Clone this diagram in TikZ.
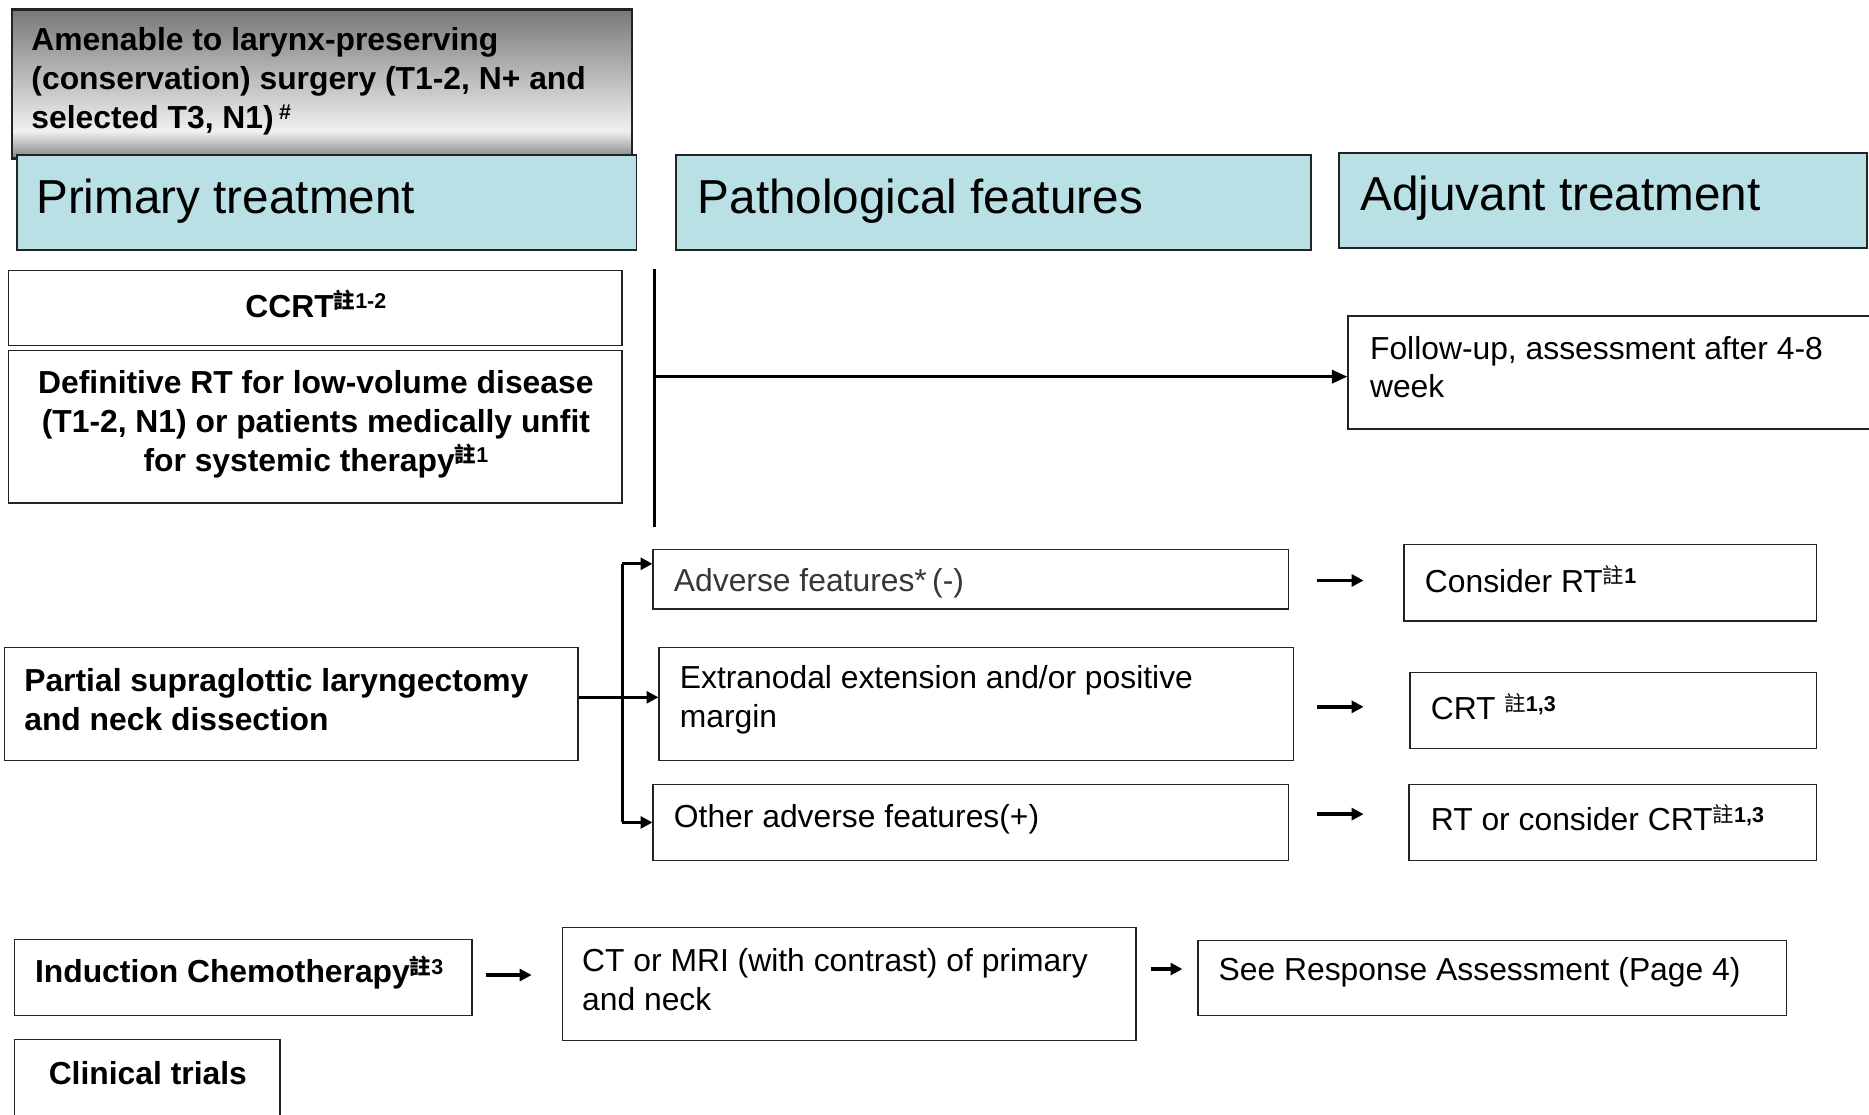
\documentclass[tikz,border=0pt]{standalone}
\usepackage{fontspec}
\setmainfont{Liberation Sans}
\newfontfamily\cjk{Noto Sans CJK TC}
\usetikzlibrary{arrows.meta,fit}
\newcommand\zhu[1]{\raisebox{3.6pt}{\fontsize{9}{9}\selectfont{\cjk 註}\textbf{#1}}}
\definecolor{hdr}{RGB}{185,224,228}
\definecolor{bord}{RGB}{35,35,35}
\definecolor{gtop}{RGB}{120,120,120}
\definecolor{gmid}{RGB}{240,240,240}
\definecolor{gbot}{RGB}{130,130,130}
\definecolor{advtxt}{RGB}{55,55,55}
\begin{document}
\begin{tikzpicture}[x=0.5pt,y=-0.5pt,
  box/.style={draw=bord, line width=0.6pt, inner sep=0pt},
  hbox/.style={box, fill=hdr, line width=0.8pt},
  txt/.style={inner sep=0pt, anchor=west, align=left, font=\fontsize{13.35}{16.25}\selectfont},
  btxt/.style={txt, font=\fontsize{13.35}{16.25}\selectfont\bfseries},
  htxt/.style={inner sep=0pt, anchor=west, font=\fontsize{20}{24}\selectfont},
  bigconn/.style={line width=1.3pt, -{Triangle[length=6.5pt,width=5.5pt]}},
  conn/.style={line width=1.4pt, -{Triangle[length=5pt,width=5pt]}},
]
\clip (0,0) rectangle (1568,935);
\fill[white] (0,0) rectangle (1568,935);

% gray top box
\shade[top color=gtop, bottom color=gmid] (10,8) rectangle (530,110);
\shade[top color=gmid, bottom color=gbot] (10,110) rectangle (530,133);
\node[box, line width=0.9pt, fit={(10,8) (530,133)}] (amen) {};
\node[btxt] (amen-t) at (26,68) {Amenable to larynx-preserving\\(conservation) surgery (T1-2, N+ and\\selected T3, N1)\,\raisebox{3.6pt}{\fontsize{9}{9}\selectfont\#}};

% headers
\node[hbox, fit={(14,130) (534,210)}] (prim) {};
\node[hbox, fit={(567,130) (1100,210)}] (path) {};
\node[hbox, fit={(1123,128) (1566,208)}] (adj) {};
\node[htxt] (prim-t) at (30,169) {Primary treatment};
\node[htxt] (path-t) at (585,169) {Pathological features};
\node[htxt] (adj-t) at (1141,166) {Adjuvant treatment};

% primary treatment boxes
\node[box, fit={(7,227) (522,290)}] (ccrt) {};
\node[btxt, anchor=center] (ccrt-t) at (265,255) {CCRT\zhu{1-2}};
\node[box, fit={(7,294) (522,422)}] (def) {};
\node[btxt, anchor=center, align=center] (def-t) at (265,356) {Definitive RT for low-volume disease\\(T1-2, N1) or patients medically unfit\\for systemic therapy\zhu{1}};

\node[box, fit={(1131,265) (1590,360)}] (fu) {};
\node[txt] (fu-t) at (1149,308) {Follow-up, assessment after 4-8\\week};

\coordinate (vtop) at (549,226);
\coordinate (vbot) at (549,442);
\coordinate (vmid) at (549,316);
\draw[line width=1.5pt] (vtop) -- (vbot);
\draw[bigconn] (vmid) -- (vmid -| fu.west);

% surgery
\node[box, fit={(4,543) (485,638)}] (part) {};
\node[btxt] (part-t) at (20,587) {Partial supraglottic laryngectomy\\and neck dissection};

\node[box, fit={(548,461) (1081,511)}] (adv) {};
\node[txt, text=advtxt] (adv-t) at (565,489) {Adverse features*\,(-)};
\node[box, fit={(553,543) (1085,638)}] (ext) {};
\node[txt] (ext-t) at (570,587) {Extranodal extension and/or positive\\margin};
\node[box, fit={(548,658) (1081,722)}] (oth) {};
\node[txt] (oth-t) at (565,687) {Other adverse features(+)};

\coordinate (btop) at (522,473);
\coordinate (bbot) at (522,690);
\coordinate (bmid) at (522,585);
\draw[line width=1.3pt] (btop) -- (bbot);
\draw[conn] (part.east |- bmid) -- (ext.west |- bmid);
\draw[conn] (btop) -- (btop -| adv.west);
\draw[conn] (bbot) -- (bbot -| oth.west);

\node[box, fit={(1178,457) (1524,521)}] (crt1) {};
\node[txt] (crt1-t) at (1195,486) {Consider RT\zhu{1}};
\node[box, fit={(1183,564) (1524,628)}] (crt2) {};
\node[txt] (crt2-t) at (1200,593) {CRT \zhu{1,3}};
\node[box, fit={(1182,658) (1524,722)}] (crt3) {};
\node[txt] (crt3-t) at (1200,686) {RT or consider CRT\zhu{1,3}};

\coordinate (s1a) at (1105,487); \coordinate (s1b) at (1144,487);
\coordinate (s2a) at (1105,593); \coordinate (s2b) at (1144,593);
\coordinate (s3a) at (1105,683); \coordinate (s3b) at (1144,683);
\draw[conn] (s1a) -- (s1b);
\draw[conn] (s2a) -- (s2b);
\draw[conn] (s3a) -- (s3b);

% induction row
\node[box, fit={(12,788) (396,852)}] (ind) {};
\node[btxt] (ind-t) at (29,816) {Induction Chemotherapy\zhu{3}};
\node[box, fit={(472,778) (953,873)}] (ct) {};
\node[txt] (ct-t) at (488,822) {CT or MRI (with contrast) of primary\\and neck};
\node[box, fit={(1005,789) (1499,852)}] (see) {};
\node[txt] (see-t) at (1022,816) {See Response Assessment (Page 4)};
\coordinate (i1a) at (408,818); \coordinate (i1b) at (446,818);
\coordinate (i2a) at (966,813); \coordinate (i2b) at (992,813);
\draw[conn] (i1a) -- (i1b);
\draw[conn] (i2a) -- (i2b);

\node[box, fit={(12,872) (235,950)}] (clin) {};
\node[btxt, anchor=center] (clin-t) at (124,900) {Clinical trials};
\end{tikzpicture}
\end{document}
